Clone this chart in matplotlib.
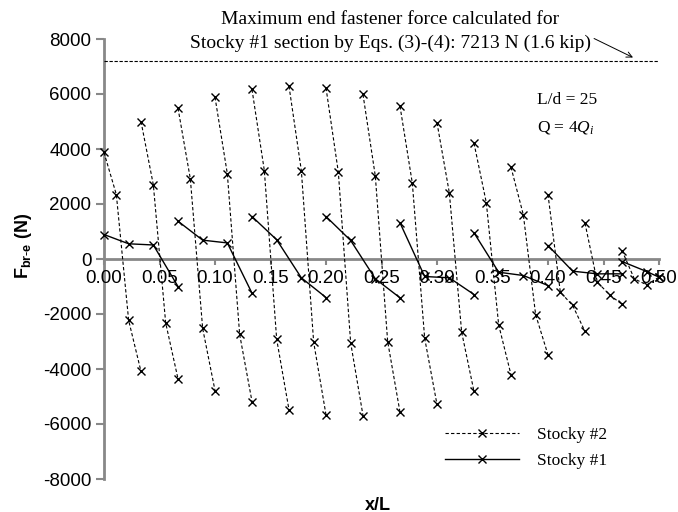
import matplotlib
matplotlib.use("Agg")
import matplotlib.pyplot as plt

plt.rcParams["mathtext.fontset"] = "custom"
plt.rcParams["mathtext.rm"] = "Liberation Serif"
plt.rcParams["mathtext.it"] = "Liberation Serif:italic"
plt.rcParams["mathtext.bf"] = "Liberation Sans:bold"

# ---- data ----
# Stocky #2 (dashed): 15 segments, each 4 points
stocky2_x = [[k / 30 + j / 90 for j in range(4)] for k in range(15)]
stocky2_y = [
    [3873, 2345, -2236, -4090],
    [5000, 2698, -2321, -4357],
    [5484, 2916, -2527, -4782],
    [5885, 3098, -2745, -5182],
    [6164, 3218, -2916, -5484],
    [6285, 3218, -3025, -5666],
    [6225, 3156, -3047, -5691],
    [5982, 3011, -3000, -5570],
    [5556, 2756, -2880, -5290],
    [4953, 2407, -2662, -4818],
    [4211, 2044, -2393, -4211],
    [3338, 1607, -2030, -3484],
    [2345, -1206, -1690, -2636],
    [1302, -843, -1303, -1650],
    [309, -721, -940, -660],
]
# Stocky #1 (solid): 8 segments
stocky1_x = [[k * 2 / 30 + j * 2 / 90 for j in range(4)] for k in range(7)] + [[14 / 30, 14 / 30 + 2 / 90, 0.5]]
stocky1_y = [
    [890, 553, 510, -1000],
    [1375, 685, 585, -1243],
    [1545, 700, -684, -1400],
    [1545, 673, -720, -1411],
    [1316, -636, -684, -1291],
    [953, -480, -600, -964],
    [490, -443, -540, -540],
    [-91, -455, -660],
]
max_force = 7213
x_ticks = [0.0, 0.05, 0.10, 0.15, 0.20, 0.25, 0.30, 0.35, 0.40, 0.45, 0.50]
y_ticks = [-8000, -6000, -4000, -2000, 0, 2000, 4000, 6000, 8000]

SANS = ["Liberation Sans", "DejaVu Sans"]
SERIF = ["Liberation Serif", "DejaVu Serif"]

fig = plt.figure(figsize=(6.78, 5.12), dpi=100)
ax = fig.add_axes([104 / 678, 33 / 512, (659 - 104) / 678, (479 - 39) / 512])

dash = (0, (3, 2))
for i, (xs, ys) in enumerate(zip(stocky2_x, stocky2_y)):
    ax.plot(xs, ys, color="black", linestyle=dash, linewidth=0.8, marker="x",
            markersize=5.5, markeredgewidth=1.0, label="Stocky #2" if i == 0 else None,
            clip_on=False, zorder=3)
for i, (xs, ys) in enumerate(zip(stocky1_x, stocky1_y)):
    ax.plot(xs, ys, color="black", linestyle="-", linewidth=1.0, marker="x",
            markersize=5.5, markeredgewidth=1.0, label="Stocky #1" if i == 0 else None,
            clip_on=False, zorder=3)

ax.axhline(max_force, color="black", linestyle=(0, (3, 1.5)), linewidth=0.8)

ax.set_xlim(0, 0.5)
ax.set_ylim(-8000, 8000)

for s in ["top", "right"]:
    ax.spines[s].set_visible(False)
ax.spines["bottom"].set_position(("data", 0))
for s in ["left", "bottom"]:
    ax.spines[s].set_color("#888888")
    ax.spines[s].set_linewidth(2)
    ax.spines[s].set_zorder(1)

ax.set_xticks(x_ticks)
ax.set_xticklabels([f"{v:.2f}" for v in x_ticks], family=SANS, fontsize=13.5)
ax.set_yticks(y_ticks)
ax.set_yticklabels([str(v) for v in y_ticks], family=SANS, fontsize=13.5)
ax.tick_params(axis="x", direction="out", length=4, width=1.5, color="#888888", pad=4)
ax.tick_params(axis="y", direction="out", length=6, width=1.5, color="#888888", pad=3)
for lab in ax.get_xticklabels():
    lab.set_zorder(2)

ax.set_ylabel(r"$\mathbf{F_{br\text{-}e}}$ (N)", family=SANS, fontsize=13, fontweight="bold", labelpad=2)
ax.yaxis.set_label_coords(-0.126, 0.53)
fig.text(378 / 678, 1 - 505 / 512, "x/L", family=SANS, fontsize=13, fontweight="bold",
         ha="center", va="center")

# annotations
fig.text(390 / 678, 1 - 19 / 512, "Maximum end fastener force calculated for",
         family=SERIF, fontsize=14, ha="center", va="center")
fig.text(391 / 678, 1 - 43 / 512, "Stocky #1 section by Eqs. (3)-(4): 7213 N (1.6 kip)",
         family=SERIF, fontsize=14, ha="center", va="center")
ax.annotate("", xy=(0.4766, 7327), xytext=(0.4415, 8018),
            arrowprops=dict(arrowstyle="->", color="black", lw=0.7, shrinkA=0, shrinkB=0),
            annotation_clip=False)
ax.text(537 / 678, 1 - 100 / 512, "L/d = 25", transform=fig.transFigure,
        family=SERIF, fontsize=12.5, ha="left", va="center")
ax.text(537 / 678, 1 - 127 / 512, r"Q = 4$\mathit{Q}_\mathit{i}$", transform=fig.transFigure,
        family=SERIF, fontsize=12.5, ha="left", va="center")

leg = ax.legend(loc="upper left", bbox_to_anchor=(436 / 678, 1 - 418 / 512),
                bbox_transform=fig.transFigure, frameon=False,
                prop={"family": SERIF, "size": 12.5}, handlelength=4.3,
                handletextpad=1.0, labelspacing=0.6, borderpad=0)

fig.savefig("out.png", dpi=100)
